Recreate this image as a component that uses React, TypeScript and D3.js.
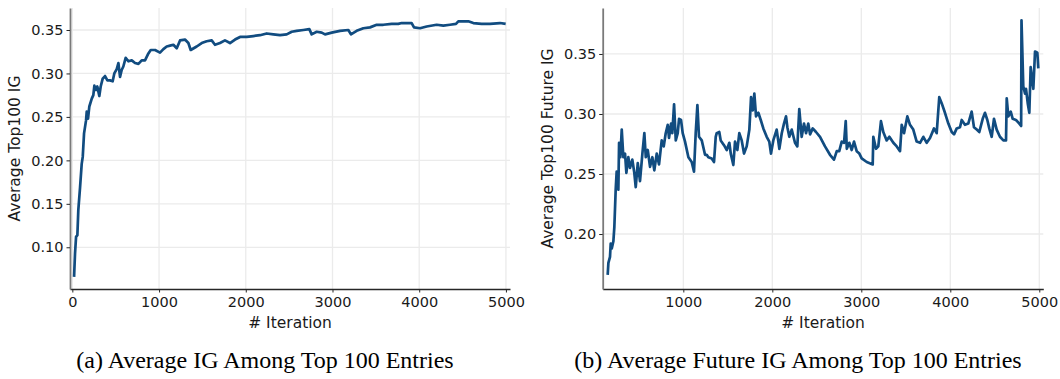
import React, { useEffect, useRef } from 'react';
import * as d3 from 'd3';

// Panel (a): average IG among top-100 entries
const igIter = [20, 31, 43, 58, 69, 89, 108, 120, 135, 158, 166, 181, 196, 224, 242, 254, 273, 288, 311, 327, 350, 377, 404, 435, 465, 484, 512, 531, 550, 569, 588, 615, 646, 685, 723, 762, 800, 838, 877, 904, 954, 1011, 1050, 1088, 1127, 1165, 1204, 1242, 1299, 1338, 1365, 1434, 1492, 1549, 1607, 1645, 1703, 1760, 1818, 1876, 1934, 2011, 2087, 2164, 2241, 2318, 2395, 2472, 2530, 2587, 2664, 2733, 2760, 2818, 2876, 2914, 2991, 3087, 3183, 3213, 3279, 3356, 3433, 3510, 3586, 3683, 3759, 3798, 3913, 3940, 4009, 4086, 4201, 4278, 4355, 4424, 4451, 4566, 4624, 4720, 4816, 4932, 4997];
const igValue = [0.066, 0.093, 0.112, 0.114, 0.143, 0.169, 0.196, 0.204, 0.231, 0.246, 0.256, 0.248, 0.262, 0.271, 0.275, 0.286, 0.281, 0.285, 0.274, 0.285, 0.294, 0.297, 0.292, 0.292, 0.291, 0.300, 0.305, 0.312, 0.296, 0.304, 0.308, 0.318, 0.314, 0.315, 0.312, 0.311, 0.315, 0.315, 0.323, 0.327, 0.327, 0.324, 0.328, 0.331, 0.332, 0.333, 0.329, 0.338, 0.339, 0.335, 0.327, 0.331, 0.335, 0.337, 0.338, 0.333, 0.335, 0.338, 0.335, 0.339, 0.342, 0.342, 0.343, 0.344, 0.346, 0.345, 0.344, 0.345, 0.348, 0.349, 0.350, 0.351, 0.345, 0.348, 0.347, 0.345, 0.347, 0.349, 0.350, 0.345, 0.349, 0.352, 0.353, 0.356, 0.356, 0.357, 0.357, 0.358, 0.358, 0.353, 0.352, 0.354, 0.356, 0.355, 0.356, 0.357, 0.360, 0.360, 0.358, 0.357, 0.357, 0.358, 0.357];

// Panel (b): average future IG among top-100 entries
const futIter = [150, 158, 176, 184, 196, 214, 225, 240, 251, 270, 278, 292, 308, 326, 345, 360, 382, 401, 427, 449, 465, 488, 513, 540, 562, 578, 600, 626, 652, 674, 701, 727, 757, 780, 802, 825, 839, 862, 876, 896, 915, 937, 952, 974, 993, 1019, 1057, 1094, 1120, 1139, 1158, 1176, 1207, 1244, 1263, 1281, 1319, 1345, 1364, 1375, 1404, 1420, 1457, 1488, 1517, 1533, 1562, 1581, 1607, 1629, 1656, 1682, 1712, 1742, 1761, 1780, 1798, 1817, 1843, 1870, 1899, 1937, 1966, 1985, 2011, 2049, 2079, 2106, 2131, 2154, 2169, 2191, 2218, 2255, 2281, 2303, 2330, 2356, 2379, 2404, 2424, 2454, 2491, 2536, 2592, 2648, 2693, 2724, 2752, 2780, 2806, 2825, 2837, 2865, 2892, 2918, 2948, 2978, 3004, 3061, 3128, 3135, 3165, 3191, 3221, 3247, 3285, 3315, 3360, 3398, 3435, 3454, 3480, 3517, 3547, 3584, 3622, 3660, 3697, 3735, 3772, 3817, 3847, 3876, 3903, 3940, 3978, 4016, 4042, 4072, 4109, 4128, 4165, 4202, 4240, 4266, 4297, 4326, 4364, 4390, 4416, 4438, 4465, 4491, 4521, 4558, 4596, 4626, 4634, 4652, 4679, 4701, 4738, 4776, 4796, 4800, 4820, 4840, 4851, 4870, 4888, 4903, 4921, 4933, 4952, 4978, 4989];
const futValue = [0.166, 0.176, 0.181, 0.192, 0.188, 0.194, 0.206, 0.237, 0.252, 0.237, 0.276, 0.264, 0.287, 0.264, 0.267, 0.251, 0.264, 0.255, 0.262, 0.251, 0.239, 0.259, 0.244, 0.267, 0.284, 0.264, 0.270, 0.256, 0.264, 0.253, 0.267, 0.258, 0.278, 0.273, 0.284, 0.291, 0.280, 0.292, 0.284, 0.308, 0.278, 0.284, 0.296, 0.295, 0.284, 0.277, 0.264, 0.260, 0.252, 0.284, 0.3075, 0.281, 0.278, 0.266, 0.266, 0.264, 0.263, 0.260, 0.281, 0.284, 0.285, 0.278, 0.274, 0.270, 0.276, 0.267, 0.2575, 0.277, 0.270, 0.284, 0.278, 0.267, 0.273, 0.287, 0.314, 0.303, 0.317, 0.298, 0.301, 0.295, 0.288, 0.281, 0.277, 0.267, 0.278, 0.287, 0.271, 0.284, 0.292, 0.298, 0.289, 0.281, 0.287, 0.276, 0.273, 0.304, 0.281, 0.292, 0.284, 0.292, 0.283, 0.288, 0.285, 0.281, 0.273, 0.266, 0.262, 0.269, 0.269, 0.277, 0.276, 0.294, 0.271, 0.276, 0.270, 0.277, 0.269, 0.267, 0.263, 0.260, 0.258, 0.281, 0.271, 0.273, 0.294, 0.285, 0.278, 0.281, 0.276, 0.273, 0.269, 0.291, 0.284, 0.298, 0.291, 0.287, 0.277, 0.276, 0.281, 0.276, 0.280, 0.288, 0.284, 0.314, 0.309, 0.301, 0.292, 0.285, 0.283, 0.288, 0.289, 0.295, 0.291, 0.292, 0.302, 0.289, 0.287, 0.285, 0.296, 0.301, 0.295, 0.288, 0.281, 0.296, 0.287, 0.281, 0.278, 0.278, 0.313, 0.298, 0.302, 0.296, 0.295, 0.292, 0.290, 0.378, 0.323, 0.317, 0.321, 0.309, 0.301, 0.339, 0.328, 0.321, 0.352, 0.351, 0.338];

const igXTicks = [0, 1000, 2000, 3000, 4000, 5000];
const igYTicks = [0.10, 0.15, 0.20, 0.25, 0.30, 0.35];
const futXTicks = [1000, 2000, 3000, 4000, 5000];
const futYTicks = [0.20, 0.25, 0.30, 0.35];

const LINE_COLOR = '#114c80';
const GRID_COLOR = '#ebebeb';
const SANS = '"DejaVu Sans", sans-serif';

interface PanelSpec {
  xs: number[];
  ys: number[];
  xDomain: [number, number];
  yDomain: [number, number];
  xRange: [number, number];
  xTicks: number[];
  yTicks: number[];
  yLabel: string;
  yLabelX: number;
  caption: string;
  captionX: number;
}

const panels: PanelSpec[] = [
  {
    xs: igIter, ys: igValue,
    xDomain: [-27, 5047], yDomain: [0.052, 0.3753], xRange: [70, 510],
    xTicks: igXTicks, yTicks: igYTicks,
    yLabel: 'Average Top100 IG', yLabelX: 20,
    caption: '(a) Average IG Among Top 100 Entries', captionX: 265,
  },
  {
    xs: futIter, ys: futValue,
    xDomain: [94, 5045], yDomain: [0.1542, 0.3883], xRange: [602.7, 1043.3],
    xTicks: futXTicks, yTicks: futYTicks,
    yLabel: 'Average Top100 Future IG', yLabelX: 553,
    caption: '(b) Average Future IG Among Top 100 Entries', captionX: 798,
  },
];

const TOP = 8;
const BOTTOM = 289;

export default function App() {
  const svgRef = useRef<SVGSVGElement>(null);

  useEffect(() => {
    if (!svgRef.current) return;
    const svg = d3.select(svgRef.current);
    svg.selectAll('*').remove();

    panels.forEach(p => {
      const x = d3.scaleLinear().domain(p.xDomain).range(p.xRange);
      const y = d3.scaleLinear().domain(p.yDomain).range([BOTTOM, TOP]);
      const g = svg.append('g');

      // grid
      g.selectAll('.vgrid').data(p.xTicks).enter().append('line')
        .attr('x1', d => x(d)).attr('x2', d => x(d))
        .attr('y1', TOP).attr('y2', BOTTOM)
        .attr('stroke', GRID_COLOR).attr('stroke-width', 1.3);
      g.selectAll('.hgrid').data(p.yTicks).enter().append('line')
        .attr('x1', p.xRange[0]).attr('x2', p.xRange[1])
        .attr('y1', d => y(d)).attr('y2', d => y(d))
        .attr('stroke', GRID_COLOR).attr('stroke-width', 1.3);

      // line
      const pts = p.xs.map((v, i) => [v, p.ys[i]] as [number, number]);
      const line = d3.line<[number, number]>().x(d => x(d[0])).y(d => y(d[1]));
      g.append('path')
        .attr('d', line(pts) || '')
        .attr('fill', 'none')
        .attr('stroke', LINE_COLOR)
        .attr('stroke-width', 2.7)
        .attr('stroke-linejoin', 'round');

      // axes
      const xAxis = g.append('g')
        .attr('transform', `translate(0,${BOTTOM})`)
        .call(d3.axisBottom(x).tickValues(p.xTicks).tickFormat(d3.format('d'))
          .tickSize(3.5).tickSizeOuter(0).tickPadding(4));
      xAxis.select('.domain').attr('stroke', '#262626').attr('stroke-width', 1.3);
      xAxis.selectAll('.tick line').attr('stroke', '#262626').attr('stroke-width', 1);
      xAxis.selectAll('text').attr('font-family', SANS).attr('font-size', 14.5).attr('fill', '#1a1a1a');

      const yAxis = g.append('g')
        .attr('transform', `translate(${p.xRange[0]},0)`)
        .call(d3.axisLeft(y).tickValues(p.yTicks).tickFormat(d3.format('.2f'))
          .tickSize(3.5).tickSizeOuter(0).tickPadding(3));
      yAxis.select('.domain').attr('stroke', '#7a7a7a').attr('stroke-width', 1.8);
      yAxis.selectAll('.tick line').attr('stroke', '#262626').attr('stroke-width', 1);
      yAxis.selectAll('text').attr('font-family', SANS).attr('font-size', 14.5).attr('fill', '#1a1a1a');

      // axis labels
      g.append('text')
        .attr('x', (p.xRange[0] + p.xRange[1]) / 2).attr('y', 328)
        .attr('text-anchor', 'middle')
        .attr('font-family', SANS).attr('font-size', 15.5).attr('fill', '#1a1a1a')
        .text('# Iteration');
      g.append('text')
        .attr('transform', `translate(${p.yLabelX},${(TOP + BOTTOM) / 2}) rotate(-90)`)
        .attr('text-anchor', 'middle')
        .attr('font-family', SANS).attr('font-size', 15.5).attr('fill', '#1a1a1a')
        .text(p.yLabel);

      // caption
      g.append('text')
        .attr('x', p.captionX).attr('y', 368)
        .attr('text-anchor', 'middle')
        .attr('font-family', '"Liberation Serif", "Times New Roman", serif')
        .attr('font-size', 24).attr('fill', '#000')
        .text(p.caption);
    });
  }, []);

  return (
    <svg
      ref={svgRef}
      width={1060}
      height={379}
      style={{ position: 'absolute', left: 0, top: 0, background: '#fff' }}
    />
  );
}
